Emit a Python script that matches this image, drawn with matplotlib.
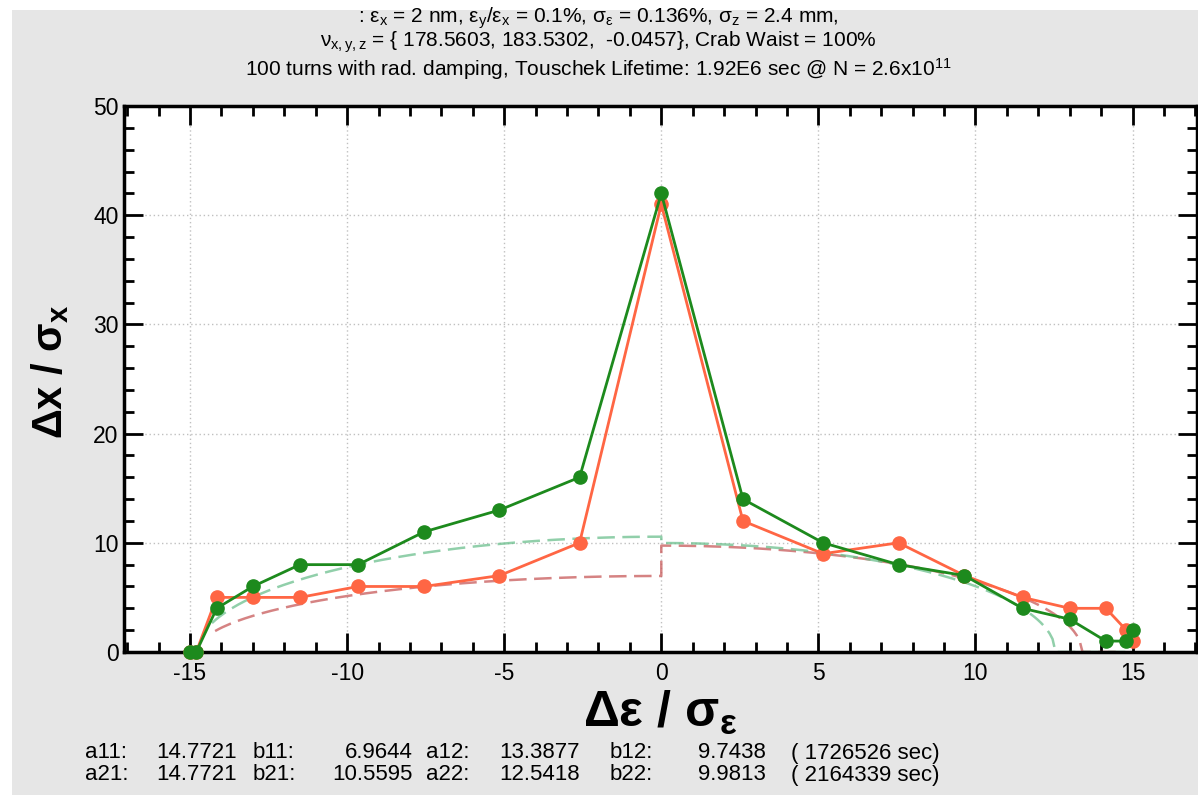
import numpy as np
import matplotlib
matplotlib.use("Agg")
import matplotlib.pyplot as plt
from matplotlib.patches import Rectangle
from matplotlib.ticker import MultipleLocator

plt.rcParams['font.family'] = ['Liberation Sans', 'DejaVu Sans']
plt.rcParams['mathtext.fontset'] = 'custom'
plt.rcParams['mathtext.rm'] = 'Liberation Sans'
plt.rcParams['mathtext.it'] = 'Liberation Sans'
plt.rcParams['mathtext.bf'] = 'Liberation Sans:bold'
plt.rcParams['mathtext.default'] = 'regular'
plt.rcParams['axes.unicode_minus'] = False

# measured points
x_pts = [-15.0, -14.8, -14.15, -13.0, -11.5, -9.65, -7.55, -5.15, -2.6, 0.0,
         2.6, 5.15, 7.55, 9.65, 11.5, 13.0, 14.15, 14.8, 15.0]
y_green = [0, 0, 4, 6, 8, 8, 11, 13, 16, 42, 14, 10, 8, 7, 4, 3, 1, 1, 2]
y_red = [0, 0, 5, 5, 5, 6, 6, 7, 10, 41, 12, 9, 10, 7, 5, 4, 4, 2, 1]

# fit parameters (shown under the plot)
a11, b11, a12, b12 = 14.7721, 6.9644, 13.3877, 9.7438
a21, b21, a22, b22 = 14.7721, 10.5595, 12.5418, 9.9813
life1, life2 = 1726526, 2164339

c_green = '#1d8a1d'
c_red = '#ff6644'


def fit_curve(a_l, b_l, a_r, b_r, x_start, x_end):
    xl = np.linspace(x_start, 0, 120)
    yl = b_l * np.sqrt(np.clip(1 - (xl / a_l) ** 2, 0, None))
    xr = np.linspace(0, x_end, 160)
    yr = b_r * np.sqrt(np.clip(1 - (xr / a_r) ** 2, 0, None))
    return np.concatenate([xl, xr]), np.concatenate([yl, yr])


W, H = 1198, 795
fig = plt.figure(figsize=(W / 100, H / 100), dpi=100)
fig.patch.set_facecolor('white')
fig.patches.append(Rectangle((12 / W, 0), 1, 1 - 10 / H, transform=fig.transFigure,
                             facecolor='#e6e6e6', edgecolor='none', zorder=-10))

ax = fig.add_axes([124 / W, 1 - 652 / H, (1197 - 124) / W, (652 - 106) / H])
ax.set_facecolor('white')

# fitted curves
xr_, yr_ = fit_curve(a11, b11, a12, b12, -14.2, 14.6)
xg_, yg_ = fit_curve(a21, b21, a22, b22, -14.3, 15.0)
ax.plot(xr_, yr_, ls=(0, (7, 3)), color='#c85a5a', lw=1.8, alpha=0.75, zorder=2)
ax.plot(xg_, yg_, ls=(0, (7, 3)), color='#6cc08e', lw=1.8, alpha=0.75, zorder=2)

ax.plot(x_pts, y_red, '-o', color=c_red, lw=2, ms=9.5, zorder=3, clip_on=False)
ax.plot(x_pts, y_green, '-o', color=c_green, lw=2, ms=9.5, zorder=4, clip_on=False)

ax.set_xlim(-17.1, 17.05)
ax.set_ylim(0, 50)
ax.xaxis.set_major_locator(MultipleLocator(5))
ax.xaxis.set_minor_locator(MultipleLocator(1))
ax.yaxis.set_major_locator(MultipleLocator(10))
ax.yaxis.set_minor_locator(MultipleLocator(2))
ax.grid(True, which='major', ls=(0, (1, 2)), color='#c0c0c0', lw=1)
ax.tick_params(which='both', direction='in', top=True, right=True, labelsize=16.5)
ax.tick_params(which='major', length=14, width=2)
ax.tick_params(which='minor', length=7, width=2)
ax.tick_params(axis='x', pad=7)
ax.tick_params(axis='y', pad=4)
for s in ax.spines.values():
    s.set_linewidth(2.5)

# axis labels
fig.text(0.5 * (124 + 1197) / W, 1 - 708 / H, 'Δε / σ$_\\mathbf{ε}$', fontsize=36,
         fontweight='bold', ha='center', va='center_baseline')
fig.text(50 / W, 1 - 372 / H, 'Δx / σ$_\\mathbf{x}$', fontsize=30, fontweight='bold',
         ha='center', va='center', rotation=90)

title = [': ε$_x$ = 2 nm, ε$_y$/ε$_x$ = 0.1%, σ$_ε$ = 0.136%, σ$_z$ = 2.4 mm,',
         'ν$_{x,y,z}$ = { 178.5603, 183.5302,  -0.0457}, Crab Waist = 100%',
         '100 turns with rad. damping, Touschek Lifetime: 1.92E6 sec @ N = 2.6x10$^{11}$']
title_y = [18, 42, 69]
for t, ty in zip(title, title_y):
    fig.text(598 / W, 1 - ty / H, t, ha='center', va='center', fontsize=15)

rows = [('a11:', a11, 'b11:', b11, 'a12:', a12, 'b12:', b12, life1),
        ('a21:', a21, 'b21:', b21, 'a22:', a22, 'b22:', b22, life2)]
for j, r in enumerate(rows):
    yy = 1 - (753 + 22 * j) / H
    kw = dict(va='center', fontsize=16)
    fig.text(85 / W, yy, r[0], ha='left', **kw)
    fig.text(237 / W, yy, f'{r[1]:.4f}', ha='right', **kw)
    fig.text(253 / W, yy, r[2], ha='left', **kw)
    fig.text(413 / W, yy, f'{r[3]:.4f}', ha='right', **kw)
    fig.text(426 / W, yy, r[4], ha='left', **kw)
    fig.text(580 / W, yy, f'{r[5]:.4f}', ha='right', **kw)
    fig.text(610 / W, yy, r[6], ha='left', **kw)
    fig.text(766 / W, yy, f'{r[7]:.4f}', ha='right', **kw)
    fig.text(791 / W, yy, f'( {r[8]} sec)', ha='left', **kw)

fig.savefig('out.png', dpi=100, facecolor=fig.get_facecolor())
